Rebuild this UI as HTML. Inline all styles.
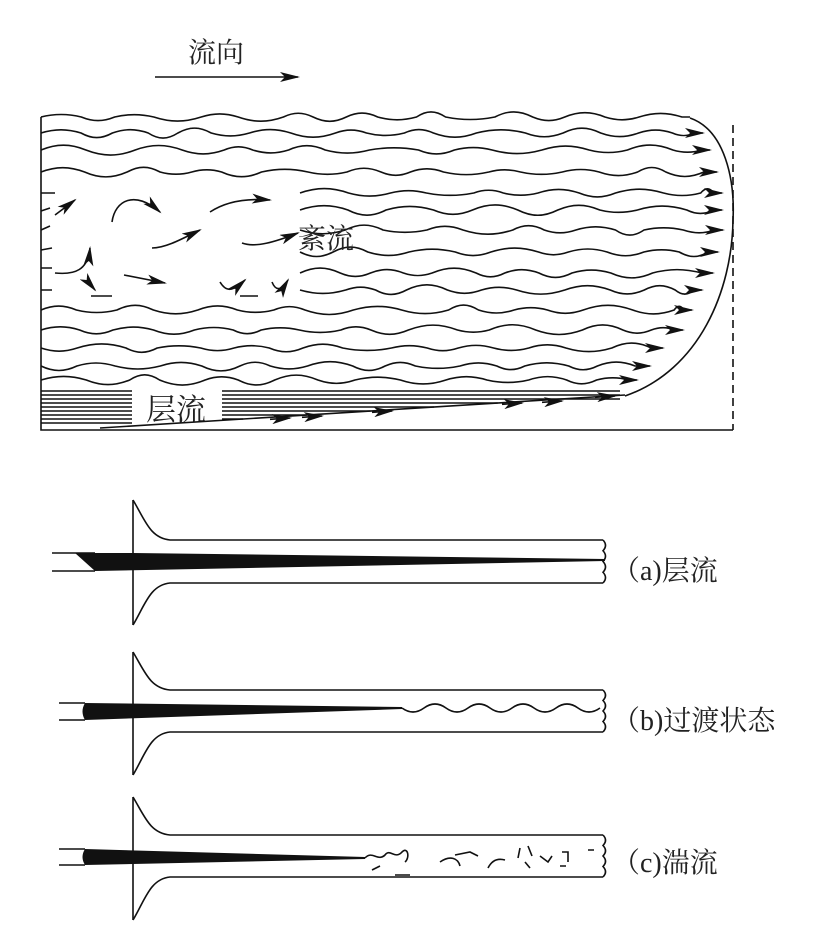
<!DOCTYPE html>
<html><head><meta charset="utf-8"><style>
html,body{margin:0;padding:0;background:#fff;width:814px;height:943px;overflow:hidden}
svg{display:block}
text{font-family:"Liberation Serif","Noto Serif CJK SC","Noto Sans CJK SC",serif;fill:#222}
</style></head><body>
<svg id="s" width="814" height="943" viewBox="0 0 814 943" xmlns="http://www.w3.org/2000/svg">
<defs>
<marker id="ah" viewBox="0 0 20 10" refX="18" refY="5" markerWidth="20" markerHeight="10" markerUnits="userSpaceOnUse" orient="auto">
<path d="M0,0 L20,5 L0,10 L5,5 Z" fill="#111"/></marker>
</defs>
<g fill="none" stroke="#111" stroke-width="1.6">
<text x="188" y="62" font-size="28" stroke="none">流向</text>
<line x1="155" y1="77" x2="298" y2="77" marker-end="url(#ah)"/>
<path d="M41,117 L41,430 L733,430"/>
<line x1="733" y1="125" x2="733" y2="430" stroke-dasharray="8,5"/>
<path d="M690,118 C725,130 735,180 733,220 C732,290 700,370 625,396"/>
<g id="waves"></g>
<g id="lam"></g>
<rect x="132" y="386" width="90" height="40" fill="#fff" stroke="none"/>
<text x="146" y="420" font-size="30" stroke="none">层流</text>
<text x="298" y="248" font-size="28" stroke="none">紊流</text>
<path d="M100,428 L625,395"/>
<path d="M55,215 L75,200" marker-end="url(#ah)"/>
<path d="M112,222 C115,200 135,190 160,212" marker-end="url(#ah)"/>
<path d="M210,212 C225,202 245,198 270,200" marker-end="url(#ah)"/>
<path d="M152,248 C165,248 180,240 200,230" marker-end="url(#ah)"/>
<path d="M242,243 C255,248 275,242 298,233" marker-end="url(#ah)"/>
<path d="M55,273 C75,275 88,270 90,248" marker-end="url(#ah)"/>
<path d="M124,275 L165,283" marker-end="url(#ah)"/>
<path d="M220,282 C226,292 232,292 245,280" marker-end="url(#ah)"/>
<path d="M272,282 C276,292 282,290 288,280" marker-end="url(#ah)"/>
<path d="M90,284 L95,290" marker-end="url(#ah)"/>
<path d="M91,296 L112,296 M240,296 L258,296"/>
<path d="M41,193 L55,193 M41,211 L50,208 M41,230 L50,226 M41,250 L52,248 M41,268 L52,268 M41,290 L52,290"/>
<g id="tubes"></g>
</g>
<g font-size="28">
<text x="612" y="580" stroke="none">（a)层流</text>
<text x="612" y="730" stroke="none">（b)过渡状态</text>
<text x="612" y="872" stroke="none">（c)湍流</text>
</g>
</svg>
<script>
var NS="http://www.w3.org/2000/svg";
var seed=7;function rnd(){seed=(seed*9301+49297)%233280;return seed/233280;}
function wave(x0,x1,y,amp,arrow){
 var d="M"+x0+","+y, x=x0, up=rnd()>0.5?1:-1;
 while(x<x1-15){var w=28+rnd()*22;var nx=Math.min(x+w,x1-8);var a=amp*(0.6+rnd()*0.8)*up;
  d+=" C"+(x+(nx-x)*0.35).toFixed(1)+","+(y+a).toFixed(1)+" "+(x+(nx-x)*0.65).toFixed(1)+","+(y+a).toFixed(1)+" "+nx.toFixed(1)+","+y;x=nx;up=-up;}
 d+=" L"+x1+","+y;
 var p=document.createElementNS(NS,"path");p.setAttribute("d",d);
 if(arrow)p.setAttribute("marker-end","url(#ah)");
 document.getElementById("waves").appendChild(p);
}
wave(41,690,117,5,false);
var rows=[[133,41,703],[150,41,710],[172,41,717],[193,300,722],[210,300,722],[230,300,723],[252,300,718],[273,300,713],[290,300,702],[310,41,692],[330,41,683],[348,41,663],[366,41,650],[380,41,637]];
rows.forEach(function(r){wave(r[1],r[2],r[0],5,true);});
var lam=document.getElementById("lam");
for(var y=391;y<=424;y+=4){var p=document.createElementNS(NS,"path");
 var xe=y<400?620:Math.min(620,100+(428-y)*525/33); p.setAttribute("d","M41,"+y+" L"+xe.toFixed(1)+","+y);lam.appendChild(p);}
[[290,418],[322,416],[392,411],[522,403],[562,401],[615,396]].forEach(function(a){
 var p=document.createElementNS(NS,"path");p.setAttribute("d","M"+(a[0]-20)+","+(a[1]+1.3)+" L"+a[0]+","+a[1]);p.setAttribute("marker-end","url(#ah)");lam.appendChild(p);});
var T=document.getElementById("tubes");
function add(tag,attrs){var e=document.createElementNS(NS,tag);for(var k in attrs)e.setAttribute(k,attrs[k]);T.appendChild(e);return e;}
function tube(top,bot,t1,t2,wy1,wy2,wEnd,wEndY,kind){
 add("path",{d:"M133,"+top+" L133,"+bot});
 add("path",{d:"M133,"+top+" C145,"+(top+20)+" 150,"+(t1-2)+" 170,"+t1+" L603,"+t1});
 add("path",{d:"M133,"+bot+" C145,"+(bot-20)+" 150,"+(t2+2)+" 170,"+t2+" L603,"+t2});
 var h=t2-t1,d="M603,"+t1;
 for(var i=0;i<4;i++){var y=t1+h*i/4;d+=" Q608,"+(y+h/8)+" 603,"+(y+h/4);}
 add("path",{d:d});
 if(kind=="a"){
  add("path",{d:"M52,"+wy1+" L95,"+wy1+" M52,"+wy2+" L95,"+wy2});
  add("path",{d:"M75,"+wy1+" L133,"+wy1+" L"+wEnd+","+(wEndY-1)+" L"+wEnd+","+(wEndY+1)+" L95,"+wy2+" Z",fill:"#111",stroke:"none"});
 }else{
  add("path",{d:"M59,"+wy1+" L85,"+wy1+" M59,"+wy2+" L85,"+wy2});
  add("path",{d:"M85,"+wy1+" Q80,"+((wy1+wy2)/2)+" 85,"+wy2+" L"+wEnd+","+(wEndY+1)+" L"+wEnd+","+(wEndY-1)+" Z",fill:"#111",stroke:"none"});
 }
}
tube(500,625,540,583,553,571,605,560,"a");
tube(652,775,690,732,703,720,402,708,"b");
tube(797,920,835,877,849,865,365,858,"c");
var d="M402,708",x=402,up=1;while(x<590){var nx=x+22;d+=" Q"+(x+11)+","+(708+8*up)+" "+nx+",708";x=nx;up=-up;}
add("path",{d:d});
add("path",{d:"M365,858 C372,850 378,862 385,855 C390,848 395,860 402,852 C408,846 410,858 405,862 M372,870 L380,866 M395,875 L410,875 M440,862 C450,855 458,858 460,866 M455,855 L470,852 L478,856 M488,868 C492,860 498,858 505,860 M520,848 L518,858 M528,846 L532,856 M525,862 L530,868 M540,856 L548,862 L552,856 M562,852 L568,852 L568,862 M560,866 L566,866 M588,850 L594,850"});
</script>
</body></html>
